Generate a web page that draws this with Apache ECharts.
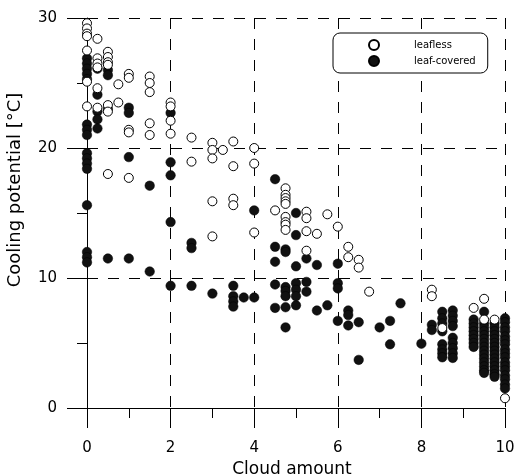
<!DOCTYPE html>
<html>
<head>
<meta charset="utf-8">
<script src="https://cdn.jsdelivr.net/npm/echarts@6/dist/echarts.min.js"></script>
<style>html,body{margin:0;padding:0;background:#fff;}#c{width:515px;height:476px;}</style>
</head>
<body>
<div id="c"></div>
<script>
const xTicks = [0, 2, 4, 6, 8, 10];
const yTicks = [0, 10, 20, 30];
const seriesNames = ['leafless', 'leaf-covered'];

// [cloud amount, cooling potential]
const leafless = [
  [0,29.6],[0,29.2],[0,28.8],[0,28.6],[0,27.5],[0,25.1],[0,23.2],
  [0.25,28.4],[0.25,26.9],[0.25,26.5],[0.25,26.2],[0.25,24.6],[0.25,23.1],
  [0.5,27.4],[0.5,27.0],[0.5,26.6],[0.5,26.4],[0.5,23.3],[0.5,22.8],[0.5,18.0],
  [0.75,24.9],[0.75,23.5],
  [1,25.7],[1,25.4],[1,21.4],[1,21.2],[1,17.7],
  [1.5,25.5],[1.5,25.0],[1.5,24.3],[1.5,21.9],[1.5,21.0],
  [2,23.5],[2,23.2],[2,22.1],[2,21.1],
  [2.5,20.8],[2.5,18.95],
  [3,20.4],[3,19.85],[3,19.2],[3,15.9],[3,13.2],
  [3.25,19.85],
  [3.5,20.5],[3.5,18.6],[3.5,16.1],[3.5,15.6],
  [4,20.0],[4,18.8],[4,13.5],
  [4.5,15.2],
  [4.75,16.9],[4.75,16.4],[4.75,16.15],[4.75,15.9],[4.75,15.7],[4.75,14.7],[4.75,14.3],[4.75,14.1],[4.75,13.7],
  [5.25,15.1],[5.25,14.6],[5.25,13.6],[5.25,12.1],
  [5.5,13.4],[5.75,14.9],[6,13.95],
  [6.25,12.4],[6.25,11.6],[6.5,11.4],[6.5,10.8],[6.75,8.95],
  [8.25,9.1],[8.25,8.6],[8.5,6.15],[9.25,7.7],[9.5,8.4],[9.5,6.8],[9.75,6.8],[10,0.75]
];

const leafCovered = [
  [0,26.9],[0,26.5],[0,26.1],[0,25.7],[0,25.3],[0,21.8],[0,21.4],[0,21.0],[0,19.6],[0,19.2],[0,18.8],[0,18.4],[0,15.6],[0,12.0],[0,11.6],[0,11.2],
  [0.25,26.1],[0.25,24.1],[0.25,22.8],[0.25,22.2],[0.25,21.5],
  [0.5,26.0],[0.5,25.6],[0.5,23.0],[0.5,11.5],
  [1,23.1],[1,22.7],[1,19.3],[1,11.5],
  [1.5,17.1],[1.5,10.5],
  [2,22.7],[2,18.9],[2,17.9],[2,14.3],[2,9.4],
  [2.5,12.7],[2.5,12.3],[2.5,9.4],
  [3,8.8],
  [3.5,9.4],[3.5,8.6],[3.5,8.2],[3.5,7.8],
  [3.75,8.5],
  [4,15.2],[4,8.5],
  [4.5,17.6],[4.5,12.4],[4.5,11.25],[4.5,9.5],[4.5,7.7],
  [4.75,12.2],[4.75,12.0],[4.75,9.3],[4.75,9.0],[4.75,8.6],[4.75,7.75],[4.75,6.2],
  [5,15.0],[5,13.3],[5,10.9],[5,9.6],[5,9.1],[5,8.6],[5,7.9],
  [5.25,11.5],[5.25,9.7],[5.25,8.95],
  [5.5,11.0],[5.5,7.5],
  [5.75,7.9],
  [6,11.1],[6,9.6],[6,9.2],[6,6.7],
  [6.25,7.5],[6.25,7.15],[6.25,6.35],
  [6.5,6.6],[6.5,3.7],
  [7,6.2],
  [7.25,6.7],[7.25,4.9],
  [7.5,8.05],
  [8,4.95],
  [8.25,6.4],[8.25,6.0],
  [8.5,7.4],[8.5,6.9],[8.5,6.5],[8.5,5.9],[8.5,4.9],[8.5,4.5],[8.5,4.2],[8.5,3.9],
  [8.75,7.5],[8.75,7.1],[8.75,6.7],[8.75,6.3],[8.75,5.4],[8.75,5.0],[8.75,4.6],[8.75,4.2],[8.75,3.85],
  [9.25,6.8],[9.25,6.5],[9.25,6.2],[9.25,5.9],[9.25,5.6],[9.25,5.3],[9.25,5.0],[9.25,4.7],
  [9.5,7.4],[9.5,6.5],[9.5,6.2],[9.5,5.9],[9.5,5.6],[9.5,5.3],[9.5,5.0],[9.5,4.7],[9.5,4.4],[9.5,4.1],[9.5,3.8],[9.5,3.5],[9.5,3.2],[9.5,2.9],[9.5,2.7],
  [9.75,6.5],[9.75,6.2],[9.75,5.9],[9.75,5.6],[9.75,5.3],[9.75,5.0],[9.75,4.7],[9.75,4.4],[9.75,4.1],[9.75,3.8],[9.75,3.5],[9.75,3.2],[9.75,2.9],[9.75,2.6],[9.75,2.4],
  [10,6.9],[10,6.6],[10,6.2],[10,5.9],[10,5.5],[10,5.2],[10,4.9],[10,4.5],[10,4.2],[10,3.9],[10,3.5],[10,3.2],[10,2.9],[10,2.5],[10,2.2],[10,1.8],[10,1.5]
];

const FONT = 'DejaVu Sans';
const chart = echarts.init(document.getElementById('c'), null, {renderer: 'canvas'});
const dashed = {show: true, lineStyle: {color: '#000', width: 1, type: [11, 10]}};

chart.setOption({
  animation: false,
  backgroundColor: '#fff',
  grid: {left: 87, right: 10, top: 18, bottom: 68, containLabel: false, outerBoundsMode: 'none'},
  legend: {
    data: seriesNames,
    orient: 'vertical',
    left: 333, top: 33,
    icon: 'circle',
    itemWidth: 10, itemHeight: 10, itemGap: 4,
    padding: [6, 12, 6, 35],
    backgroundColor: '#fff',
    borderColor: '#000', borderWidth: 1, borderRadius: 7,
    selectedMode: false,
    textStyle: {fontFamily: FONT, fontSize: 10, color: '#000', lineHeight: 12, padding: [0, 0, 0, 30]}
  },
  xAxis: {
    type: 'value', min: xTicks[0], max: xTicks[xTicks.length - 1], interval: 2,
    name: 'Cloud amount', nameLocation: 'middle', nameGap: 46,
    nameTextStyle: {fontFamily: FONT, fontSize: 17, color: '#000', padding: [0, 8, 0, 0]},
    axisLine: {show: true, onZero: false, lineStyle: {color: '#000', width: 1}},
    axisTick: {show: true, inside: false, length: 20, lineStyle: {color: '#000', width: 1}},
    minorTick: {show: true, splitNumber: 2, length: 10, lineStyle: {color: '#000', width: 1}},
    axisLabel: {fontFamily: FONT, fontSize: 15, color: '#000', margin: 33},
    splitLine: dashed
  },
  yAxis: {
    type: 'value', min: yTicks[0], max: yTicks[yTicks.length - 1], interval: 10,
    name: 'Cooling potential [°C]', nameLocation: 'middle', nameGap: 63,
    nameTextStyle: {fontFamily: FONT, fontSize: 18, color: '#000', padding: [0, 0, 0, 46]},
    axisLine: {show: true, onZero: false, lineStyle: {color: '#000', width: 1}},
    axisTick: {show: true, inside: false, length: 20, lineStyle: {color: '#000', width: 1}},
    minorTick: {show: true, splitNumber: 2, length: 10, lineStyle: {color: '#000', width: 1}},
    axisLabel: {fontFamily: FONT, fontSize: 15, color: '#000', margin: 30},
    splitLine: dashed
  },
  series: [
    {
      name: seriesNames[1], type: 'scatter', data: leafCovered,
      symbol: 'circle', symbolSize: 9.5,
      itemStyle: {color: '#111', borderColor: '#000', borderWidth: 0.5, opacity: 1}
    },
    {
      name: seriesNames[0], type: 'scatter', data: leafless,
      symbol: 'circle', symbolSize: 9,
      itemStyle: {color: '#fff', borderColor: '#000', borderWidth: 1, opacity: 1}
    }
  ]
});
</script>
</body>
</html>
